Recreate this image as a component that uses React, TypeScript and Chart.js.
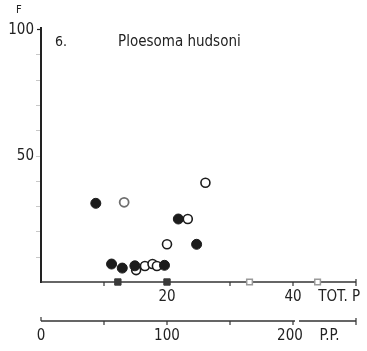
import React, { useEffect, useRef } from "react";
import { Chart, registerables } from "chart.js";

Chart.register(...registerables);

// Tot. P on the primary x axis, F on the y axis
const filledCircles = [
  { x: 8.7, y: 31.1 },
  { x: 21.8, y: 24.9 },
  { x: 24.7, y: 14.9 },
  { x: 11.2, y: 7.1 },
  { x: 12.9, y: 5.5 },
  { x: 14.9, y: 6.4 },
  { x: 19.6, y: 6.6 },
];
const openCircles = [
  { x: 26.1, y: 39.2 },
  { x: 23.3, y: 24.9 },
  { x: 20.0, y: 14.9 },
  { x: 15.1, y: 4.7 },
  { x: 16.5, y: 6.3 },
  { x: 17.7, y: 7.1 },
  { x: 18.4, y: 6.3 },
];
const greyCircles = [{ x: 13.2, y: 31.5 }];
const filledSquares = [
  { x: 12.2, y: 0 },
  { x: 20.0, y: 0 },
];
const openSquares = [
  { x: 33.1, y: 0 },
  { x: 43.9, y: 0 },
];

const yLabels = [50, 100];
const yMinorTicks = [10, 20, 30, 40, 50, 60, 70, 80, 90];
const totPLabels = [20, 40];
const totPTicksDown = [10, 30, 40];
const ppLabels = [0, 100, 200];
const ppTicksDown = [50, 100, 150, 200];

const FONT = '"DejaVu Sans Condensed", "Liberation Sans Narrow", "Liberation Sans", sans-serif';
const INK = "#222";

const axesPlugin = {
  id: "handAxes",
  beforeDatasetsDraw(chart: any) {
    const { ctx, scales } = chart;
    const x = scales.x;
    const y = scales.y;
    const pp = scales.pp;
    const x0 = x.getPixelForValue(0);
    const x1 = x.getPixelForValue(50);
    const yBase = y.getPixelForValue(0);
    const yTop = y.getPixelForValue(100);
    const ppY = yBase + 39;

    ctx.save();
    ctx.lineCap = "butt";

    // faint minor ticks on F axis
    ctx.strokeStyle = "#c8c8c8";
    ctx.lineWidth = 1;
    yMinorTicks.forEach((v) => {
      const py = Math.round(y.getPixelForValue(v)) + 0.5;
      ctx.beginPath();
      ctx.moveTo(x0 - 5, py);
      ctx.lineTo(x0 - 1, py);
      ctx.stroke();
    });

    // F axis
    ctx.strokeStyle = INK;
    ctx.lineWidth = 2;
    ctx.beginPath();
    ctx.moveTo(x0, yTop - 2);
    ctx.lineTo(x0, yBase + 1);
    ctx.stroke();
    ctx.lineWidth = 1.2;
    ctx.beginPath();
    ctx.moveTo(x0 - 4, yTop + 0.5);
    ctx.lineTo(x0, yTop + 0.5);
    ctx.stroke();

    // Tot. P axis
    ctx.strokeStyle = "#333";
    ctx.lineWidth = 1.6;
    ctx.beginPath();
    ctx.moveTo(x0, yBase);
    ctx.lineTo(x1, yBase);
    ctx.stroke();
    ctx.lineWidth = 1.2;
    totPTicksDown.forEach((v) => {
      const px = x.getPixelForValue(v);
      ctx.beginPath();
      ctx.moveTo(px, yBase);
      ctx.lineTo(px, yBase + 4);
      ctx.stroke();
    });
    ctx.beginPath();
    ctx.moveTo(x1, yBase - 3);
    ctx.lineTo(x1, yBase + 4);
    ctx.stroke();

    // P.P. axis
    const p0 = pp.getPixelForValue(0);
    const p200 = pp.getPixelForValue(200);
    const p250 = pp.getPixelForValue(250);
    ctx.lineWidth = 1.6;
    ctx.beginPath();
    ctx.moveTo(p0, ppY);
    ctx.lineTo(p200 + 2, ppY);
    ctx.moveTo(p200 + 6, ppY);
    ctx.lineTo(p250, ppY);
    ctx.stroke();
    ctx.lineWidth = 1.2;
    ctx.beginPath();
    ctx.moveTo(p0, ppY - 4);
    ctx.lineTo(p0, ppY);
    ctx.stroke();
    ppTicksDown.forEach((v) => {
      const px = pp.getPixelForValue(v);
      ctx.beginPath();
      ctx.moveTo(px, ppY);
      ctx.lineTo(px, ppY + 4);
      ctx.stroke();
    });
    ctx.beginPath();
    ctx.moveTo(p250, ppY - 3);
    ctx.lineTo(p250, ppY + 4);
    ctx.stroke();

    // text
    ctx.fillStyle = INK;
    ctx.textBaseline = "middle";
    ctx.font = `15px ${FONT}`;
    ctx.textAlign = "right";
    yLabels.forEach((v) => {
      ctx.fillText(String(v), x0 - 7, y.getPixelForValue(v) + 1);
    });
    ctx.textAlign = "center";
    totPLabels.forEach((v) => {
      ctx.fillText(String(v), x.getPixelForValue(v), yBase + 15);
    });
    ppLabels.forEach((v) => {
      ctx.fillText(String(v), pp.getPixelForValue(v) - (v === 200 ? 3 : 0), ppY + 15);
    });
    ctx.textAlign = "left";
    ctx.fillText("TOT. P", x.getPixelForValue(44.0), yBase + 15);
    ctx.fillText("P.P.", pp.getPixelForValue(221), ppY + 15);

    ctx.font = `14px ${FONT}`;
    ctx.fillText("6.", x0 + 14, yTop + 13);
    ctx.font = `15px ${FONT}`;
    ctx.fillText("Ploesoma hudsoni", x0 + 77, yTop + 13);

    // y axis title, its top trimmed off by the page edge
    ctx.beginPath();
    ctx.rect(0, 5, 60, 20);
    ctx.clip();
    ctx.font = `11px ${FONT}`;
    ctx.textBaseline = "alphabetic";
    ctx.fillText("F", 16, 12.5);
    ctx.restore();
  },
};

export default function App() {
  const ref = useRef<HTMLCanvasElement>(null);

  useEffect(() => {
    if (!ref.current) return;
    const chart = new Chart(ref.current, {
      type: "scatter",
      data: {
        datasets: [
          {
            data: filledSquares,
            pointStyle: "rect",
            pointRadius: 4.5,
            backgroundColor: "#3a3a3a",
            borderColor: "#3a3a3a",
            borderWidth: 1,
          },
          {
            data: openSquares,
            pointStyle: "rect",
            pointRadius: 4,
            backgroundColor: "#ffffff",
            borderColor: "#9a9a9a",
            borderWidth: 1.5,
          },
          {
            data: filledCircles,
            pointStyle: "circle",
            pointRadius: 5,
            backgroundColor: "#1c1c1c",
            borderColor: "#1c1c1c",
            borderWidth: 1,
          },
          {
            data: openCircles,
            pointStyle: "circle",
            pointRadius: 4.5,
            backgroundColor: "#ffffff",
            borderColor: "#1c1c1c",
            borderWidth: 1.6,
          },
          {
            data: greyCircles,
            pointStyle: "circle",
            pointRadius: 4.5,
            backgroundColor: "#ffffff",
            borderColor: "#6e6e6e",
            borderWidth: 1.8,
          },
        ].map((d) => ({ ...d, clip: false as any, pointHoverRadius: d.pointRadius })),
      },
      options: {
        responsive: false,
        animation: false,
        devicePixelRatio: 1,
        layout: { padding: { left: 41, right: 11, top: 29, bottom: 69 } },
        plugins: { legend: { display: false }, tooltip: { enabled: false } },
        events: [],
        scales: {
          x: { type: "linear", min: 0, max: 50, display: false },
          pp: { type: "linear", axis: "x", min: 0, max: 250, display: false },
          y: { type: "linear", min: 0, max: 100, display: false },
        },
      },
      plugins: [axesPlugin],
    });
    return () => chart.destroy();
  }, []);

  return (
    <div style={{ position: "fixed", left: 0, top: 0, width: 367, height: 351, background: "#fff" }}>
      <canvas ref={ref} width={367} height={351} style={{ display: "block" }} />
    </div>
  );
}
